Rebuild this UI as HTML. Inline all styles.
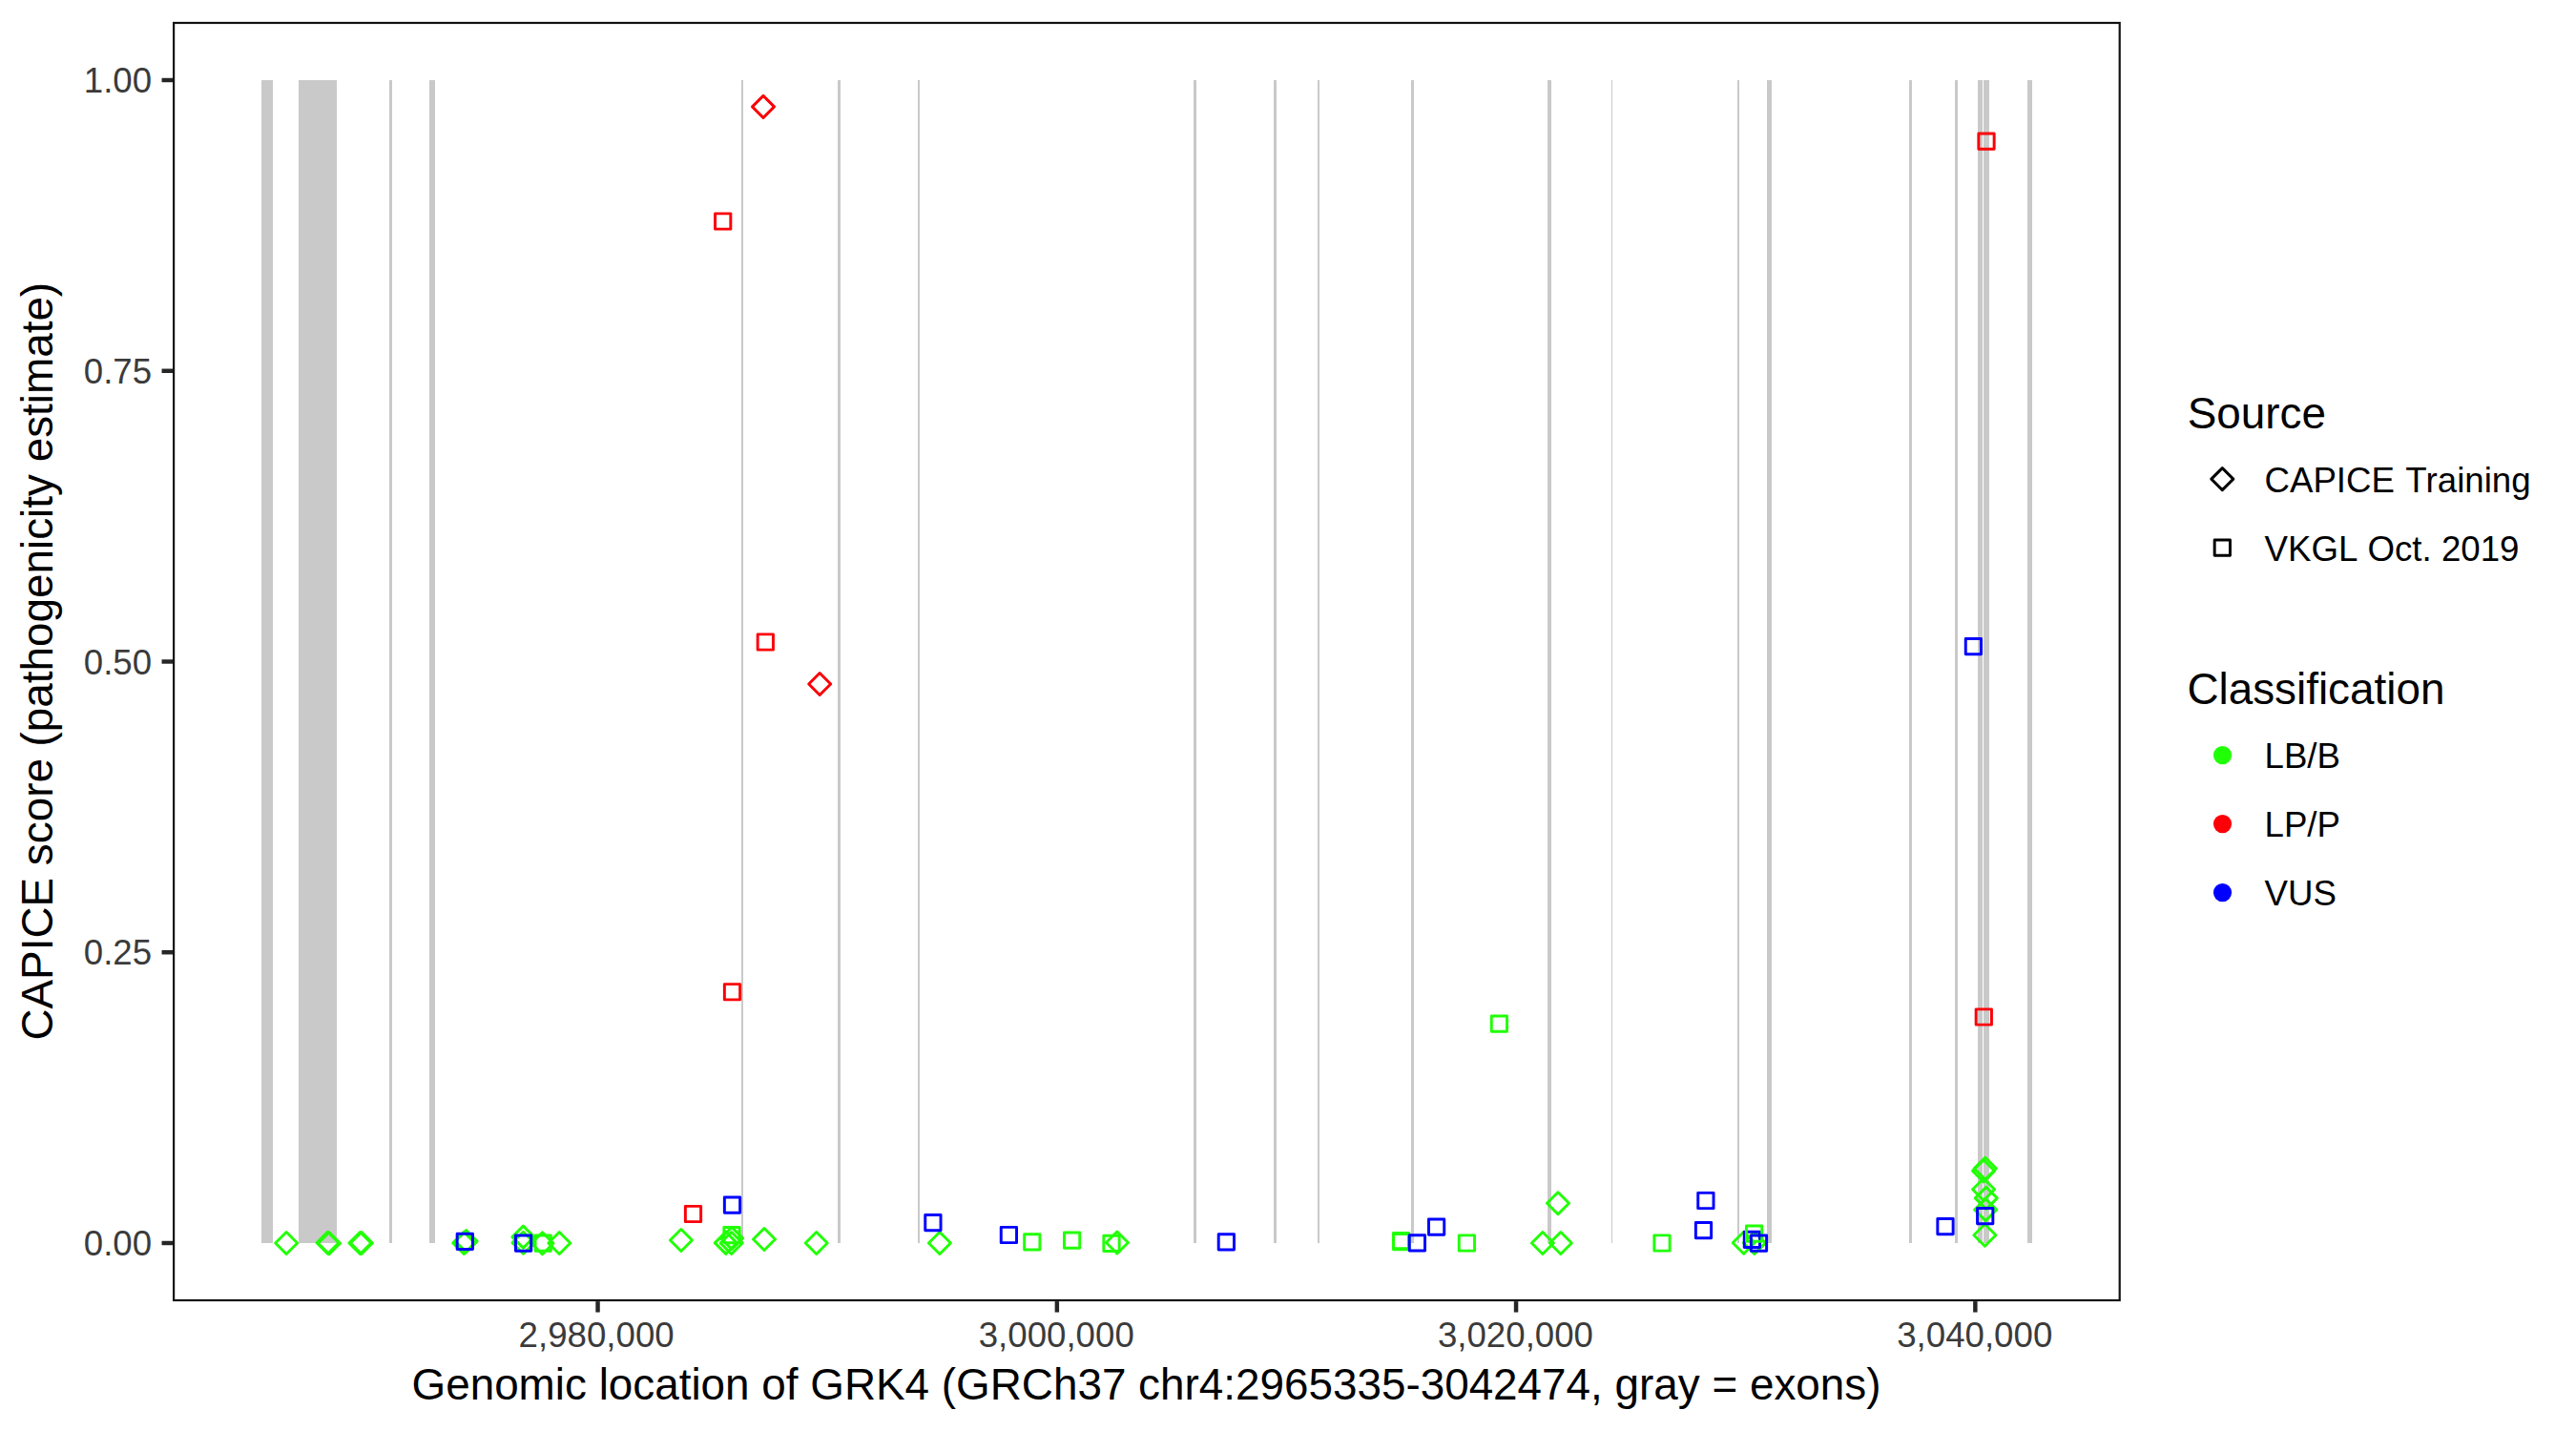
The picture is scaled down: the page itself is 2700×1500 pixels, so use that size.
<!DOCTYPE html>
<html lang="en"><head><meta charset="utf-8"><title>CAPICE score GRK4</title>
<style>
html,body{margin:0;padding:0;background:#fff;}
body{width:2700px;height:1500px;overflow:hidden;}
svg{display:block;}
text{font-family:"Liberation Sans",Arial,Helvetica,sans-serif;font-kerning:none;}
.tk{font-size:36.67px;fill:#3B3B3B;}
.lg{font-size:36.67px;fill:#000;}
.tt{font-size:45.83px;fill:#000;}
</style></head><body>
<svg width="2700" height="1500" viewBox="0 0 2700 1500">
<rect x="0" y="0" width="2700" height="1500" fill="#fff"/>

<g fill="#C9C9C9">
<rect x="274.00" y="84.00" width="12.00" height="1219.00"/>
<rect x="313.00" y="84.00" width="40.00" height="1219.00"/>
<rect x="408.00" y="84.00" width="3.00" height="1219.00"/>
<rect x="450.00" y="84.00" width="6.00" height="1219.00"/>
<rect x="777.00" y="84.00" width="2.00" height="1219.00"/>
<rect x="878.00" y="84.00" width="3.00" height="1219.00"/>
<rect x="962.00" y="84.00" width="2.00" height="1219.00"/>
<rect x="1251.00" y="84.00" width="3.00" height="1219.00"/>
<rect x="1335.00" y="84.00" width="3.00" height="1219.00"/>
<rect x="1381.00" y="84.00" width="2.00" height="1219.00"/>
<rect x="1479.00" y="84.00" width="3.00" height="1219.00"/>
<rect x="1622.00" y="84.00" width="4.00" height="1219.00"/>
<rect x="1689.00" y="84.00" width="1.00" height="1219.00"/>
<rect x="1821.00" y="84.00" width="2.00" height="1219.00"/>
<rect x="1852.00" y="84.00" width="5.00" height="1219.00"/>
<rect x="2001.00" y="84.00" width="3.00" height="1219.00"/>
<rect x="2049.00" y="84.00" width="3.00" height="1219.00"/>
<rect x="2073.00" y="84.00" width="5.00" height="1219.00"/>
<rect x="2079.00" y="84.00" width="6.00" height="1219.00"/>
<rect x="2125.00" y="84.00" width="5.00" height="1219.00"/>
</g>
<g fill="none" stroke-width="2.95" stroke-linejoin="round">
<path d="M288.69 1303.00L300.20 1291.49L311.71 1303.00L300.20 1314.51Z" stroke="#21FF06"/>
<path d="M331.99 1302.80L343.50 1291.29L355.01 1302.80L343.50 1314.31Z" stroke="#21FF06"/>
<path d="M333.49 1303.20L345.00 1291.69L356.51 1303.20L345.00 1314.71Z" stroke="#21FF06"/>
<path d="M365.94 1303.00L377.45 1291.49L388.96 1303.00L377.45 1314.51Z" stroke="#21FF06"/>
<path d="M367.44 1303.00L378.95 1291.49L390.46 1303.00L378.95 1314.51Z" stroke="#21FF06"/>
<path d="M474.79 1302.90L486.30 1291.39L497.81 1302.90L486.30 1314.41Z" stroke="#21FF06"/>
<path d="M477.09 1301.10L488.60 1289.59L500.11 1301.10L488.60 1312.61Z" stroke="#21FF06"/>
<path d="M536.89 1296.60L548.40 1285.09L559.91 1296.60L548.40 1308.11Z" stroke="#21FF06"/>
<path d="M536.99 1302.80L548.50 1291.29L560.01 1302.80L548.50 1314.31Z" stroke="#21FF06"/>
<path d="M556.99 1303.20L568.50 1291.69L580.01 1303.20L568.50 1314.71Z" stroke="#21FF06"/>
<path d="M574.79 1303.00L586.30 1291.49L597.81 1303.00L586.30 1314.51Z" stroke="#21FF06"/>
<path d="M702.39 1300.05L713.90 1288.54L725.41 1300.05L713.90 1311.56Z" stroke="#21FF06"/>
<path d="M749.29 1302.90L760.80 1291.39L772.31 1302.90L760.80 1314.41Z" stroke="#21FF06"/>
<path d="M755.19 1303.00L766.70 1291.49L778.21 1303.00L766.70 1314.51Z" stroke="#21FF06"/>
<path d="M755.49 1297.90L767.00 1286.39L778.51 1297.90L767.00 1309.41Z" stroke="#21FF06"/>
<path d="M789.49 1299.00L801.00 1287.49L812.51 1299.00L801.00 1310.51Z" stroke="#21FF06"/>
<path d="M844.19 1303.00L855.70 1291.49L867.21 1303.00L855.70 1314.51Z" stroke="#21FF06"/>
<path d="M973.39 1303.00L984.90 1291.49L996.41 1303.00L984.90 1314.51Z" stroke="#21FF06"/>
<path d="M1159.44 1302.50L1170.95 1290.99L1182.46 1302.50L1170.95 1314.01Z" stroke="#21FF06"/>
<path d="M1605.39 1303.00L1616.90 1291.49L1628.41 1303.00L1616.90 1314.51Z" stroke="#21FF06"/>
<path d="M1624.29 1303.00L1635.80 1291.49L1647.31 1303.00L1635.80 1314.51Z" stroke="#21FF06"/>
<path d="M1621.49 1261.30L1633.00 1249.79L1644.51 1261.30L1633.00 1272.81Z" stroke="#21FF06"/>
<path d="M1816.19 1302.80L1827.70 1291.29L1839.21 1302.80L1827.70 1314.31Z" stroke="#21FF06"/>
<path d="M1827.39 1302.90L1838.90 1291.39L1850.41 1302.90L1838.90 1314.41Z" stroke="#21FF06"/>
<path d="M2069.29 1224.80L2080.80 1213.29L2092.31 1224.80L2080.80 1236.31Z" stroke="#21FF06"/>
<path d="M2067.59 1227.40L2079.10 1215.89L2090.61 1227.40L2079.10 1238.91Z" stroke="#21FF06"/>
<path d="M2067.59 1246.70L2079.10 1235.19L2090.61 1246.70L2079.10 1258.21Z" stroke="#21FF06"/>
<path d="M2070.29 1255.90L2081.80 1244.39L2093.31 1255.90L2081.80 1267.41Z" stroke="#21FF06"/>
<path d="M2069.69 1268.10L2081.20 1256.59L2092.71 1268.10L2081.20 1279.61Z" stroke="#21FF06"/>
<path d="M2068.89 1294.80L2080.40 1283.29L2091.91 1294.80L2080.40 1306.31Z" stroke="#21FF06"/>
<path d="M788.49 111.90L800.00 100.39L811.51 111.90L800.00 123.41Z" stroke="#FB0007"/>
<path d="M847.69 717.00L859.20 705.49L870.71 717.00L859.20 728.51Z" stroke="#FB0007"/>
<rect x="479.16" y="1293.16" width="16.28" height="16.28" stroke="#0000FF"/>
<rect x="540.46" y="1295.06" width="16.28" height="16.28" stroke="#0000FF"/>
<rect x="561.06" y="1295.06" width="16.28" height="16.28" stroke="#21FF06"/>
<rect x="718.36" y="1264.36" width="16.28" height="16.28" stroke="#FB0007"/>
<rect x="749.56" y="223.86" width="16.28" height="16.28" stroke="#FB0007"/>
<rect x="758.86" y="1286.56" width="16.28" height="16.28" stroke="#21FF06"/>
<rect x="759.36" y="1031.61" width="16.28" height="16.28" stroke="#FB0007"/>
<rect x="759.36" y="1255.06" width="16.28" height="16.28" stroke="#0000FF"/>
<rect x="794.16" y="664.86" width="16.28" height="16.28" stroke="#FB0007"/>
<rect x="969.76" y="1273.46" width="16.28" height="16.28" stroke="#0000FF"/>
<rect x="1049.26" y="1286.36" width="16.28" height="16.28" stroke="#0000FF"/>
<rect x="1073.66" y="1293.66" width="16.28" height="16.28" stroke="#21FF06"/>
<rect x="1115.46" y="1291.96" width="16.28" height="16.28" stroke="#21FF06"/>
<rect x="1156.86" y="1295.16" width="16.28" height="16.28" stroke="#21FF06"/>
<rect x="1277.21" y="1293.76" width="16.28" height="16.28" stroke="#0000FF"/>
<rect x="1460.46" y="1292.46" width="16.28" height="16.28" stroke="#21FF06"/>
<rect x="1460.46" y="1293.56" width="16.28" height="16.28" stroke="#21FF06"/>
<rect x="1477.26" y="1294.66" width="16.28" height="16.28" stroke="#0000FF"/>
<rect x="1497.46" y="1277.96" width="16.28" height="16.28" stroke="#0000FF"/>
<rect x="1529.26" y="1294.86" width="16.28" height="16.28" stroke="#21FF06"/>
<rect x="1563.26" y="1064.96" width="16.28" height="16.28" stroke="#21FF06"/>
<rect x="1733.86" y="1294.86" width="16.28" height="16.28" stroke="#21FF06"/>
<rect x="1777.36" y="1281.56" width="16.28" height="16.28" stroke="#0000FF"/>
<rect x="1779.76" y="1250.36" width="16.28" height="16.28" stroke="#0000FF"/>
<rect x="1828.26" y="1291.26" width="16.28" height="16.28" stroke="#0000FF"/>
<rect x="1830.46" y="1284.96" width="16.28" height="16.28" stroke="#21FF06"/>
<rect x="1835.36" y="1295.06" width="16.28" height="16.28" stroke="#0000FF"/>
<rect x="2030.86" y="1277.46" width="16.28" height="16.28" stroke="#0000FF"/>
<rect x="2060.26" y="669.51" width="16.28" height="16.28" stroke="#0000FF"/>
<rect x="2071.16" y="1057.86" width="16.28" height="16.28" stroke="#FB0007"/>
<rect x="2072.56" y="1266.46" width="16.28" height="16.28" stroke="#0000FF"/>
<rect x="2073.86" y="140.06" width="16.28" height="16.28" stroke="#FB0007"/>
</g>
<rect x="182.10" y="24.00" width="2039.60" height="1339.00" fill="none" stroke="#111" stroke-width="2.2"/>
<g stroke="#262626" stroke-width="4.45">
<line x1="169.54" y1="84.00" x2="181.00" y2="84.00"/>
<line x1="169.54" y1="388.75" x2="181.00" y2="388.75"/>
<line x1="169.54" y1="693.50" x2="181.00" y2="693.50"/>
<line x1="169.54" y1="998.25" x2="181.00" y2="998.25"/>
<line x1="169.54" y1="1303.00" x2="181.00" y2="1303.00"/>
<line x1="626.55" y1="1364.10" x2="626.55" y2="1375.56"/>
<line x1="1107.85" y1="1364.10" x2="1107.85" y2="1375.56"/>
<line x1="1589.05" y1="1364.10" x2="1589.05" y2="1375.56"/>
<line x1="2070.35" y1="1364.10" x2="2070.35" y2="1375.56"/>
</g>
<text class="tk" x="159.1" y="97.10" text-anchor="end">1.00</text>
<text class="tk" x="159.1" y="401.85" text-anchor="end">0.75</text>
<text class="tk" x="159.1" y="706.60" text-anchor="end">0.50</text>
<text class="tk" x="159.1" y="1011.35" text-anchor="end">0.25</text>
<text class="tk" x="159.1" y="1316.10" text-anchor="end">0.00</text>
<text class="tk" x="625.15" y="1412.0" text-anchor="middle">2,980,000</text>
<text class="tk" x="1107.25" y="1412.0" text-anchor="middle">3,000,000</text>
<text class="tk" x="1588.45" y="1412.0" text-anchor="middle">3,020,000</text>
<text class="tk" x="2069.75" y="1412.0" text-anchor="middle">3,040,000</text>
<text class="tt" x="1201.5" y="1466.8" text-anchor="middle">Genomic location of GRK4 (GRCh37 chr4:2965335-3042474, gray = exons)</text>
<text class="tt" transform="translate(54.9,693.2) rotate(-90)" text-anchor="middle">CAPICE score (pathogenicity estimate)</text>
<text class="tt" x="2292.8" y="448.7">Source</text>
<g fill="none" stroke="#000" stroke-width="2.95" stroke-linejoin="round">
<path d="M2317.79 502.10L2329.30 490.59L2340.81 502.10L2329.30 513.61Z" stroke="#000"/>
<rect x="2321.16" y="566.06" width="16.28" height="16.28" stroke="#000"/>
</g>
<text class="lg" x="2373.5" y="515.9">CAPICE <tspan dx="1">T</tspan><tspan dx="-1">raining</tspan></text>
<text class="lg" x="2373.5" y="587.8">VKGL Oct. 2019</text>
<text class="tt" x="2292.4" y="737.8">Classification</text>
<circle cx="2329.5" cy="791.6" r="9.6" fill="#21FF06"/>
<text class="lg" x="2373.5" y="804.90">LB/B</text>
<circle cx="2329.5" cy="863.6" r="9.6" fill="#FB0007"/>
<text class="lg" x="2373.5" y="876.90">LP/P</text>
<circle cx="2329.5" cy="935.6" r="9.6" fill="#0000FF"/>
<text class="lg" x="2373.5" y="948.90">VUS</text>
</svg></body></html>
